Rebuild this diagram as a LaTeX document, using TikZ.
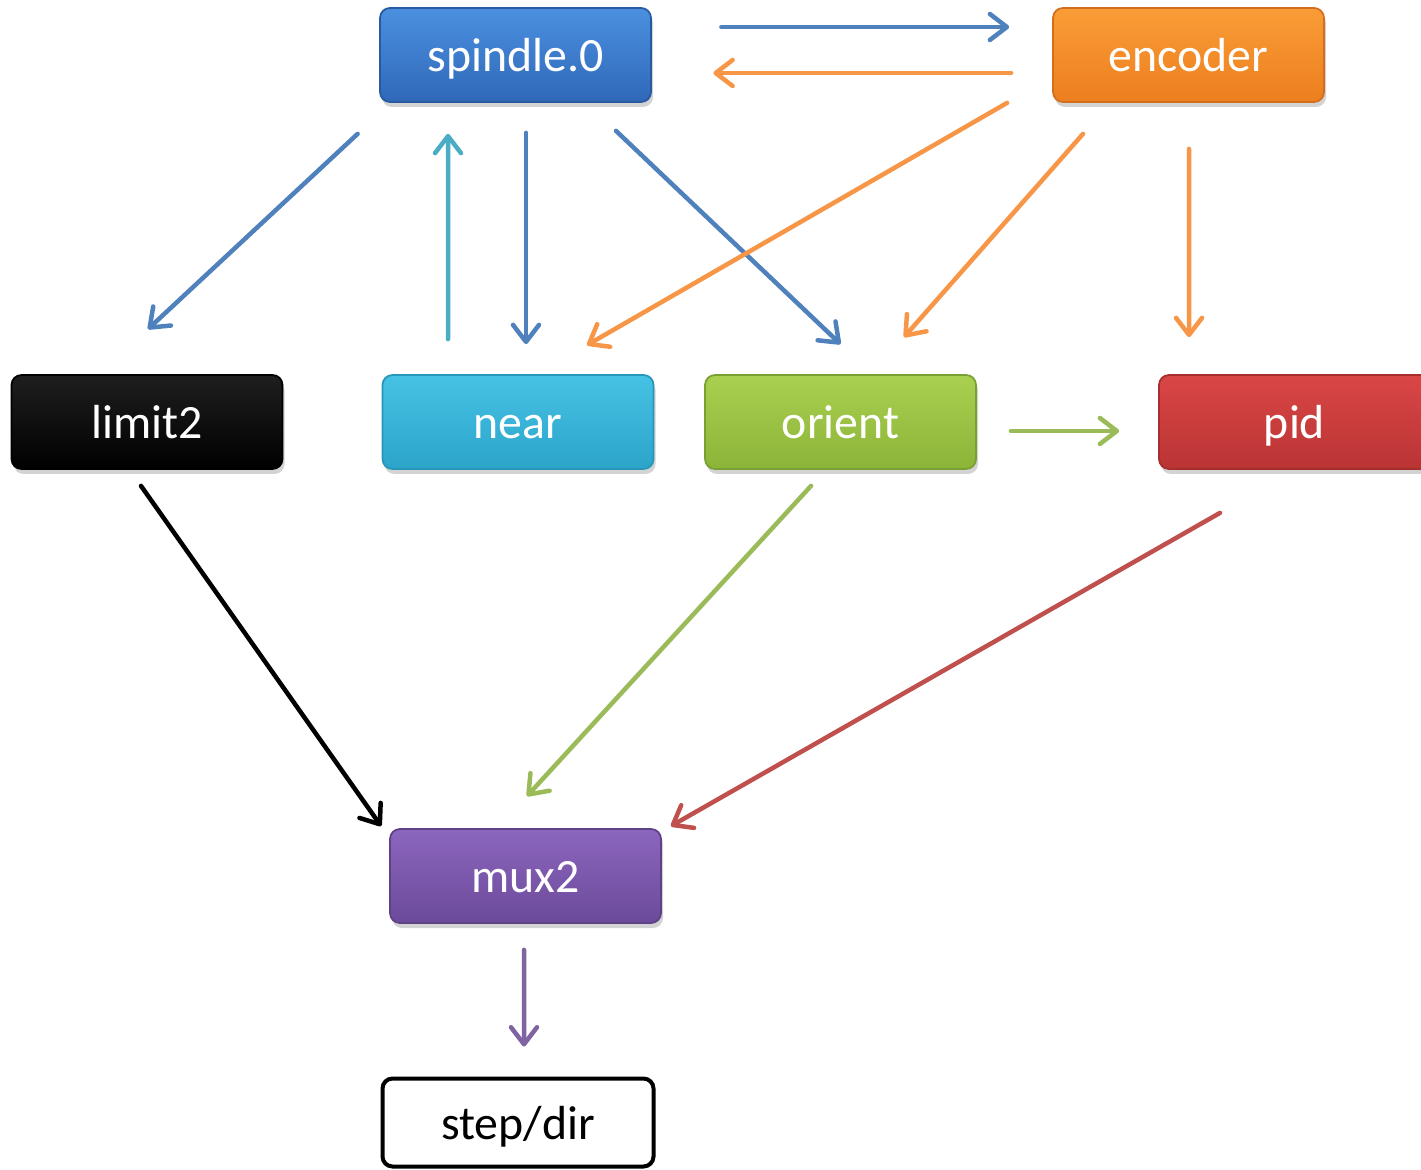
\documentclass[tikz,border=0pt]{standalone}
\usepackage{fontspec}
\setmainfont{Carlito}
\usepackage{tikz}
\usetikzlibrary{arrows.meta,shadows}
\usepackage{xcolor}
\definecolor{spindletop}{RGB}{75,144,224}
\definecolor{spindlebot}{RGB}{48,104,184}
\definecolor{spindleline}{RGB}{40,90,160}
\definecolor{encodertop}{RGB}{250,157,55}
\definecolor{encoderbot}{RGB}{236,126,30}
\definecolor{encoderline}{RGB}{210,110,30}
\definecolor{neartop}{RGB}{70,194,228}
\definecolor{nearbot}{RGB}{44,164,202}
\definecolor{nearline}{RGB}{40,150,185}
\definecolor{orienttop}{RGB}{170,208,80}
\definecolor{orientbot}{RGB}{140,180,56}
\definecolor{orientline}{RGB}{120,160,50}
\definecolor{pidtop}{RGB}{218,70,70}
\definecolor{pidbot}{RGB}{186,52,52}
\definecolor{pidline}{RGB}{165,45,45}
\definecolor{muxtop}{RGB}{140,102,190}
\definecolor{muxbot}{RGB}{108,74,154}
\definecolor{muxline}{RGB}{95,65,135}
\definecolor{arrblue}{RGB}{79,129,189}
\definecolor{arrorange}{RGB}{247,150,70}
\definecolor{arrcyan}{RGB}{75,172,198}
\definecolor{arrgreen}{RGB}{155,187,89}
\definecolor{arrred}{RGB}{192,80,77}
\definecolor{arrpurple}{RGB}{128,100,162}

\begin{document}
\begin{tikzpicture}[
  box/.style={rounded corners=0.1cm, minimum width=2.71cm, minimum height=0.94cm,
    text=white, font=\fontsize{13.6}{16}\selectfont, line width=0.5pt,
    text height=0.40cm, text depth=0.07cm,
    drop shadow={opacity=0.35, shadow xshift=0.02cm, shadow yshift=-0.05cm}},
  link/.style={line width=0.045cm, line cap=round,
    -{Straight Barb[length=0.17cm, width=0.26cm, line cap=round, line join=round]}}]
  \useasboundingbox (0,0) rectangle (14.21,-11.70);
  \node[box, top color=spindletop, bottom color=spindlebot, draw=spindleline] (spindle) at (5.155,-0.55) {spindle.0};
  \node[box, top color=encodertop, bottom color=encoderbot, draw=encoderline] (encoder) at (11.885,-0.55) {encoder};
  \node[box, top color=black!88, bottom color=black, draw=black] (limit2) at (1.47,-4.22) {limit2};
  \node[box, top color=neartop, bottom color=nearbot, draw=nearline] (near) at (5.18,-4.22) {near};
  \node[box, top color=orienttop, bottom color=orientbot, draw=orientline] (orient) at (8.405,-4.22) {orient};
  \node[box, top color=pidtop, bottom color=pidbot, draw=pidline] (pid) at (12.945,-4.22) {pid};
  \node[box, top color=muxtop, bottom color=muxbot, draw=muxline] (mux2) at (5.255,-8.76) {mux2};
  \node[rounded corners=0.1cm, minimum width=2.71cm, minimum height=0.88cm,
    font=\fontsize{13.6}{16}\selectfont, text height=0.40cm, text depth=0.07cm,
    draw=black, line width=0.04cm, fill=white] (stepdir) at (5.18,-11.225) {step/dir};

  \draw[link, arrblue] ([shift={(0.695,0.28)}]spindle.east) -- ([shift={(-0.43,0.28)}]encoder.west);
  \draw[link, arrorange] ([shift={(-0.41,-0.18)}]encoder.west) -- ([shift={(0.615,-0.18)}]spindle.east);
  \draw[link, arrblue] ([shift={(-0.215,-0.31)}]spindle.south west) -- ([shift={(0.01,0.45)}]limit2.north);
  \draw[link, arrcyan] ([shift={(-0.70,0.35)}]near.north) -- ([shift={(-0.675,-0.31)}]spindle.south);
  \draw[link, arrblue] ([shift={(0.105,-0.30)}]spindle.south) -- ([shift={(0.08,0.30)}]near.north);
  \draw[link, arrblue] ([shift={(1.005,-0.28)}]spindle.south) -- ([shift={(0,0.30)}]orient.north);
  \draw[link, arrorange] ([shift={(-0.45,0)}]encoder.south west) -- ([shift={(0.69,0.29)}]near.north);
  \draw[link, arrorange] ([shift={(-1.055,-0.31)}]encoder.south) -- ([shift={(0.635,0.37)}]orient.north);
  \draw[link, arrorange] ([shift={(0.005,-0.46)}]encoder.south) -- ([shift={(-1.055,0.37)}]pid.north);
  \draw[link, arrgreen] ([shift={(0.34,-0.09)}]orient.east) -- ([shift={(-0.39,-0.09)}]pid.west);
  \draw[link, black] ([shift={(-0.06,-0.16)}]limit2.south) -- ([shift={(-0.08,0.02)}]mux2.north west);
  \draw[link, arrgreen] ([shift={(-0.295,-0.16)}]orient.south) -- ([shift={(0.015,0.32)}]mux2.north);
  \draw[link, arrred] ([shift={(-0.745,-0.43)}]pid.south) -- ([shift={(0.09,0.02)}]mux2.north east);
  \draw[link, arrpurple] ([shift={(-0.015,-0.26)}]mux2.south) -- ([shift={(0.06,0.30)}]stepdir.north);
\end{tikzpicture}
\end{document}
